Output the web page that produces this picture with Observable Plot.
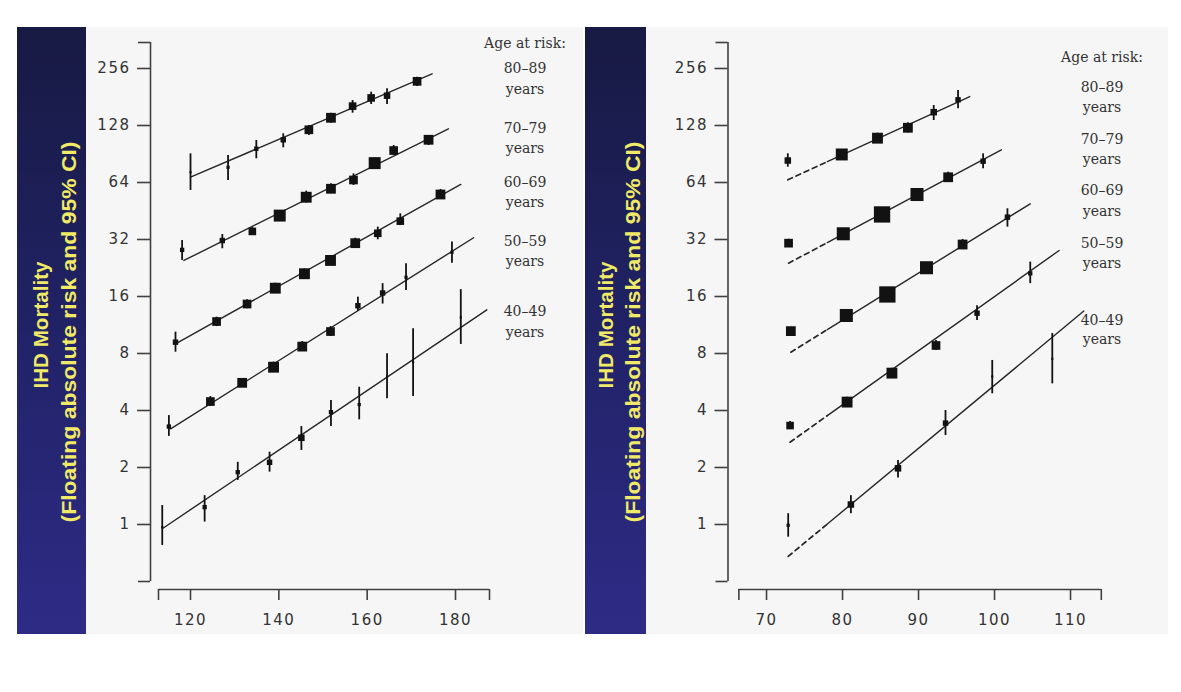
<!DOCTYPE html>
<html>
<head>
<meta charset="utf-8">
<script src="https://cdn.jsdelivr.net/npm/d3@7"></script>
<script src="https://cdn.jsdelivr.net/npm/@observablehq/plot@0.6"></script>
<style>
  html, body { margin: 0; padding: 0; background: #ffffff; }
  #page { position: relative; width: 1181px; height: 692px; overflow: hidden; background: #ffffff; }
  .bar { position: absolute; top: 27px; height: 607px; background: linear-gradient(to bottom, #171a42 0%, #22236a 55%, #2e2b86 100%); }
  .panel { position: absolute; top: 27px; }
  #legend { position: absolute; left: 0; top: 0; pointer-events: none; }
</style>
</head>
<body>
<div id="page">
  <div class="bar" id="barL" style="left:17px;width:69px;"></div>
  <div class="panel" id="plotL" style="left:86px;"></div>
  <div class="bar" id="barR" style="left:585px;width:61px;"></div>
  <div class="panel" id="plotR" style="left:646px;"></div>
  <svg id="legend" width="1181" height="692"></svg>
</div>
<script>
// ---------------- data ----------------
const ageGroups = ["80–89", "70–79", "60–69", "50–59", "40–49"];
const yTicks = [1, 2, 4, 8, 16, 32, 64, 128, 256];
const sbpTicks = [120, 140, 160, 180];
const dbpTicks = [70, 80, 90, 100, 110];
const yAxisExtent = [0.5, 351.2];
const sbpAxisExtent = [112.75, 187.7];
const dbpAxisExtent = [66.36, 114.05];
const axisTitle = ["IHD Mortality", "(Floating absolute risk and 95% CI)"];
const legendTitle = "Age at risk:";
const legendUnit = "years";

// Usual systolic BP panel: [sbp, risk, ciLow, ciHigh, weight]
const sbp80 = [
  [120.0, 72.5, 58.1, 90.7, 4], [128.5, 77, 65.6, 88.9, 9], [134.9, 96.5, 85.4, 106.7, 16],
  [141.0, 107.6, 97.6, 115.7, 25], [146.8, 121.5, 113.4, 128, 64], [151.8, 140.6, 131.6, 148.7, 81],
  [156.7, 162, 148.7, 173.5, 49], [160.9, 179, 165.2, 191.9, 49], [164.5, 184, 165, 200, 36],
  [171.3, 219, 205.6, 230, 64]
];
const sbp70 = [
  [118.1, 28.2, 24.8, 31.6, 16], [127.2, 31.6, 28.6, 34.0, 25], [134.0, 35.3, 33.6, 37.0, 49],
  [140.2, 42.8, 40.3, 45.5, 121], [146.2, 53.5, 49.8, 57.6, 100], [151.8, 59.3, 55.8, 63.0, 81],
  [156.9, 66, 61.7, 71.1, 64], [161.7, 81, 76.2, 86, 121], [166.0, 94.4, 88.9, 100.4, 64],
  [173.9, 107.6, 100.4, 113.4, 81]
];
const sbp60 = [
  [116.6, 9.18, 8.13, 10.37, 25], [125.9, 11.8, 11.1, 12.44, 64], [132.8, 14.6, 13.8, 15.37, 64],
  [139.2, 17.7, 16.7, 18.8, 100], [145.8, 21.1, 19.85, 22.4, 100], [151.7, 24.8, 23.3, 26.3, 100],
  [157.3, 30.6, 28.8, 32.5, 81], [162.4, 34.5, 31.9, 37.2, 49], [167.5, 40, 37.9, 43.7, 49],
  [176.6, 55.3, 52.1, 58.8, 81]
];
const sbp50 = [
  [115.1, 3.29, 2.92, 3.76, 16], [124.5, 4.46, 4.2, 4.74, 64], [131.7, 5.6, 5.34, 5.86, 81],
  [138.8, 6.77, 6.37, 7.2, 100], [145.3, 8.7, 8.2, 9.26, 81], [151.7, 10.45, 9.84, 11.1, 64],
  [157.9, 14.3, 13.4, 15.87, 25], [163.5, 16.7, 14.6, 18.7, 25], [168.8, 20.2, 17.2, 23.8, 9],
  [179.2, 27.4, 24.0, 31.0, 9]
];
const sbp40 = [
  [113.6, 0.97, 0.775, 1.26, 4], [123.2, 1.235, 1.03, 1.42, 16], [130.7, 1.89, 1.71, 2.13, 16],
  [137.9, 2.13, 1.89, 2.41, 25], [145.1, 2.87, 2.46, 3.29, 36], [151.8, 3.92, 3.29, 4.52, 16],
  [158.2, 4.3, 3.57, 5.31, 9], [164.5, 6.05, 4.61, 7.97, 4], [170.4, 7.2, 4.74, 10.8, 4],
  [181.2, 12.4, 8.93, 17.4, 4]
];
// fitted lines: [x0, y0, x1, y1]
const sbpFits = [
  [120.0, 68.3, 174.7, 240],
  [118.5, 24.8, 178.4, 123],
  [116.6, 9.0, 181.2, 62.5],
  [115.5, 3.2, 184.1, 32.7],
  [113.6, 0.95, 187.1, 13.6]
];

// Usual diastolic BP panel: [dbp, risk, ciLow, ciHigh, weight]
const dbp80 = [
  [72.8, 83.6, 77.1, 90.7, 36], [79.9, 90, 84.7, 95.6, 121], [84.6, 109.7, 103.2, 116.6, 100],
  [88.6, 124.5, 117.1, 132.3, 81], [92.0, 150.5, 136, 163.2, 36], [95.2, 175, 156.8, 196, 25]
];
const dbp70 = [
  [72.9, 30.6, 29.1, 32.1, 64], [80.1, 34.3, 32.3, 36.4, 144], [85.2, 43.4, 40.8, 46.1, 225],
  [89.8, 55.3, 52.1, 58.8, 144], [93.9, 68.2, 64.2, 72.5, 81], [98.5, 82.9, 75.6, 90.7, 25]
];
const dbp60 = [
  [73.2, 10.5, 10.0, 11.0, 81], [80.5, 12.7, 11.95, 13.5, 144], [85.9, 16.4, 15.2, 17.6, 225],
  [91.05, 22.7, 21.3, 24.1, 144], [95.8, 30.1, 28.3, 32.0, 81], [101.7, 42, 37.2, 46.5, 25]
];
const dbp50 = [
  [73.1, 3.33, 3.17, 3.5, 49], [80.6, 4.43, 4.16, 4.7, 100], [86.5, 6.3, 5.92, 6.69, 100],
  [92.3, 8.82, 8.3, 9.37, 64], [97.7, 13.06, 11.95, 14.3, 25], [104.7, 21.2, 18.7, 24.3, 16]
];
const dbp40 = [
  [72.85, 0.99, 0.857, 1.14, 9], [81.1, 1.275, 1.14, 1.42, 36], [87.3, 1.98, 1.76, 2.18, 36],
  [93.55, 3.43, 2.95, 4.0, 25], [99.7, 6.05, 4.9, 7.35, 4], [107.6, 7.5, 5.53, 10.2, 4]
];
// fitted lines: [x0, y0 (dashed start), xm, ym (solid start), x1, y1]
const dbpFits = [
  [72.8, 66.1, 78, 82.4, 96.75, 182],
  [72.9, 24.0, 78, 30.8, 100.9, 95.3],
  [73.2, 8.13, 78, 10.7, 104.7, 49.4],
  [73.1, 2.72, 78, 3.76, 108.5, 28],
  [72.85, 0.678, 78, 1.006, 111.75, 13.4]
];

// ---------------- build ----------------
function toRows(seriesList) {
  return seriesList.flatMap((arr, i) => arr.map(([x, y, lo, hi, w]) => ({g: ageGroups[i], x, y, lo, hi, w})));
}

const yDomain = [0.4536, 351.2];
const INK = "#121212";

function makePanel({width, marginLeft, marginRight, xDomain, xTicks, xExtent, rows, solid, dashed}) {
  const marks = [
    Plot.ruleX([xDomain[0]], {y1: yAxisExtent[0], y2: yAxisExtent[1], stroke: "#404040", strokeWidth: 1.6}),
    Plot.ruleY([yDomain[0]], {x1: xExtent[0], x2: xExtent[1], stroke: "#404040", strokeWidth: 1.6}),
    Plot.axisY({ticks: yAxisExtent, tickSize: 12, tickFormat: () => "", label: null, strokeWidth: 1.6, stroke: "#404040"}),
    Plot.axisX({ticks: xExtent, tickSize: 11, tickFormat: () => "", label: null, strokeWidth: 1.6, stroke: "#404040"}),
    Plot.axisY({ticks: yTicks, tickSize: 13, tickPadding: 7, tickFormat: d => String(d), label: null, strokeWidth: 1.6, stroke: "#404040"}),
    Plot.axisX({ticks: xTicks, tickSize: 11, tickPadding: 14, tickFormat: d => String(d), label: null, strokeWidth: 1.6, stroke: "#404040"}),
  ];
  if (dashed) marks.push(Plot.line(dashed, {x: "x", y: "y", z: "g", stroke: "#262626", strokeWidth: 1.7, strokeDasharray: "5,4"}));
  marks.push(Plot.line(solid, {x: "x", y: "y", z: "g", stroke: "#262626", strokeWidth: 1.4}));
  marks.push(Plot.ruleX(rows, {x: "x", y1: "lo", y2: "hi", stroke: INK, strokeWidth: 1.8}));
  marks.push(Plot.dot(rows, {x: "x", y: "y", r: "w", symbol: "square", fill: INK, stroke: "none"}));
  return Plot.plot({
    width, height: 607,
    marginLeft, marginRight, marginTop: 15, marginBottom: 45,
    x: {domain: xDomain},
    y: {type: "log", base: 2, domain: yDomain},
    r: {type: "sqrt", domain: [0, 225], range: [0, 9.2]},
    style: {background: "#f6f6f6", fontFamily: "DejaVu Sans", fontSize: "15px", letterSpacing: "1.5px", color: "#333333", overflow: "visible"},
    marks
  });
}

// left panel (systolic)
const sbpRows = toRows([sbp80, sbp70, sbp60, sbp50, sbp40]);
const sbpSolid = sbpFits.flatMap((f, i) => [{g: ageGroups[i], x: f[0], y: f[1]}, {g: ageGroups[i], x: f[2], y: f[3]}]);
document.getElementById("plotL").appendChild(makePanel({
  width: 497, marginLeft: 64, marginRight: 94,
  xDomain: [110.94, 187.7], xTicks: sbpTicks, xExtent: sbpAxisExtent,
  rows: sbpRows, solid: sbpSolid
}));

// right panel (diastolic)
const dbpRows = toRows([dbp80, dbp70, dbp60, dbp50, dbp40]);
const dbpDashed = dbpFits.flatMap((f, i) => [{g: ageGroups[i], x: f[0], y: f[1]}, {g: ageGroups[i], x: f[2], y: f[3]}]);
const dbpSolid = dbpFits.flatMap((f, i) => [{g: ageGroups[i], x: f[2], y: f[3]}, {g: ageGroups[i], x: f[4], y: f[5]}]);
document.getElementById("plotR").appendChild(makePanel({
  width: 522, marginLeft: 81.5, marginRight: 67.2,
  xDomain: [64.93, 114.05], xTicks: dbpTicks, xExtent: dbpAxisExtent,
  rows: dbpRows, solid: dbpSolid, dashed: dbpDashed
}));

// side bars with rotated y titles
function sideBar(id, w, b1, b2) {
  const svg = d3.select("#" + id).append("svg").attr("width", w).attr("height", 607).style("display", "block");
  const lines = [[b1, 298, 127], [b2, 305, 381]];
  lines.forEach(([bx, cy, len], i) => {
    svg.append("text")
      .attr("transform", `translate(${bx},${cy}) rotate(-90)`)
      .attr("text-anchor", "middle")
      .attr("font-family", "Liberation Sans, Arial, sans-serif")
      .attr("font-weight", "bold")
      .attr("font-size", 20)
      .attr("fill", "#f0ea66")
      .attr("textLength", len)
      .attr("lengthAdjust", "spacingAndGlyphs")
      .text(axisTitle[i]);
  });
}
sideBar("barL", 69, 31, 59);
sideBar("barR", 61, 28, 55);

// legends
const leg = d3.select("#legend");
function legend(cx, titleY, rowsY) {
  const items = [[legendTitle, titleY]];
  ageGroups.forEach((g, i) => { items.push([g, rowsY[i][0]]); items.push([legendUnit, rowsY[i][1]]); });
  items.forEach(([t, y]) => {
    leg.append("text").attr("x", cx).attr("y", y)
      .attr("text-anchor", "middle").attr("dominant-baseline", "central")
      .attr("font-family", "DejaVu Serif, serif").attr("font-size", 14).attr("fill", "#333333")
      .text(t);
  });
}
legend(525, 43, [[68, 89], [128, 148], [182, 202], [241, 261], [311, 332]]);
legend(1102, 57, [[87, 107], [139, 159], [190, 211], [243, 263], [320, 339]]);
</script>
</body>
</html>
